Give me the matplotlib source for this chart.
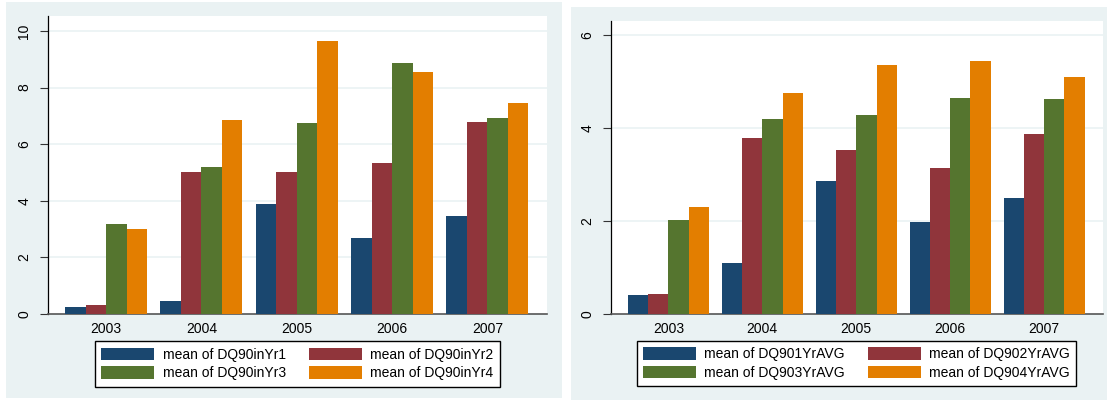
import matplotlib.pyplot as plt
import numpy as np
from matplotlib.patches import Rectangle

#===============================================================================
years = ["2003", "2004", "2005", "2006", "2007"]

left_labels = ["mean of DQ90inYr1", "mean of DQ90inYr2",
               "mean of DQ90inYr3", "mean of DQ90inYr4"]
dq90_yr1 = [0.25, 0.45, 3.90, 2.68, 3.48]
dq90_yr2 = [0.32, 5.02, 5.02, 5.32, 6.80]
dq90_yr3 = [3.17, 5.20, 6.75, 8.87, 6.92]
dq90_yr4 = [3.00, 6.85, 9.65, 8.54, 7.44]

right_labels = ["mean of DQ901YrAVG", "mean of DQ902YrAVG",
                "mean of DQ903YrAVG", "mean of DQ904YrAVG"]
dq901_avg = [0.41, 1.09, 2.86, 1.97, 2.50]
dq902_avg = [0.42, 3.78, 3.53, 3.13, 3.88]
dq903_avg = [2.02, 4.19, 4.28, 4.65, 4.62]
dq904_avg = [2.30, 4.75, 5.36, 5.44, 5.10]

colors = ["#1a476f", "#90353b", "#55752f", "#e37e00"]
bg_color = "#eaf2f3"

plt.rcParams["font.family"] = ["Liberation Sans", "DejaVu Sans"]

#===============================================================================
W, H = 1107, 400
fig = plt.figure(figsize=(W / 100, H / 100), dpi=100)
fig.patch.set_facecolor("white")

def px_rect(x0, y0, x1, y1):
    # pixel box (top-left origin) -> figure fraction [l, b, w, h]
    return [x0 / W, 1 - y1 / H, (x1 - x0) / W, (y1 - y0) / H]

for box in [(6, 2, 562, 398), (571, 7, 1110, 402)]:
    l, b, w, h = px_rect(*box)
    fig.patches.append(Rectangle((l, b), w, h, transform=fig.transFigure,
                                 facecolor=bg_color, edgecolor="none", zorder=-5))

def draw_panel(rect, series, labels, ymax, yticks, legend_box):
    ax = fig.add_axes(px_rect(*rect))
    ax.set_facecolor("white")

    x = np.arange(len(years))
    bar_w = 0.215
    for i, (vals, lab) in enumerate(zip(series, labels)):
        ax.bar(x + (i - 1.5) * bar_w, vals, bar_w, color=colors[i],
               label=lab, zorder=3, linewidth=0)

    ax.set_xlim(-0.61, 4.625)
    ax.set_ylim(0, ymax)
    ax.set_yticks(yticks)
    ax.set_yticklabels([str(t) for t in yticks], rotation=90, va="center", fontsize=10)
    ax.set_xticks(x)
    ax.set_xticklabels(years, fontsize=10)
    ax.tick_params(axis="x", length=0, pad=6)
    ax.tick_params(axis="y", length=6, width=0.8, color="#333333", pad=6)

    for t in yticks[1:]:
        ax.axhline(t, color=bg_color, linewidth=1.2, zorder=1)

    for s in ["top", "right"]:
        ax.spines[s].set_visible(False)
    ax.spines["left"].set_color("#000000")
    ax.spines["left"].set_linewidth(0.9)
    ax.spines["bottom"].set_color("#555555")
    ax.spines["bottom"].set_linewidth(1.2)

    # stata fills the legend row by row
    handles, labs = ax.get_legend_handles_labels()
    order = [0, 2, 1, 3]
    l, b, w, h = px_rect(*legend_box)
    leg = fig.legend([handles[k] for k in order], [labs[k] for k in order], ncol=2,
                     loc="center", bbox_to_anchor=(l + w / 2, b + h / 2),
                     fontsize=10, handlelength=3.8, handleheight=1.0,
                     handletextpad=0.6, columnspacing=1.7, labelspacing=0.35,
                     borderpad=0.45, fancybox=False, framealpha=1)
    leg.get_frame().set_edgecolor("black")
    leg.get_frame().set_linewidth(1.0)
    return ax

#===============================================================================
draw_panel((48, 16, 547, 314), [dq90_yr1, dq90_yr2, dq90_yr3, dq90_yr4],
           left_labels, 10.53, [0, 2, 4, 6, 8, 10], (92, 341, 503, 387))
draw_panel((611, 21, 1103, 314), [dq901_avg, dq902_avg, dq903_avg, dq904_avg],
           right_labels, 6.30, [0, 2, 4, 6], (635, 341, 1078, 386))

fig.savefig("out.png", dpi=100, facecolor=fig.get_facecolor())
